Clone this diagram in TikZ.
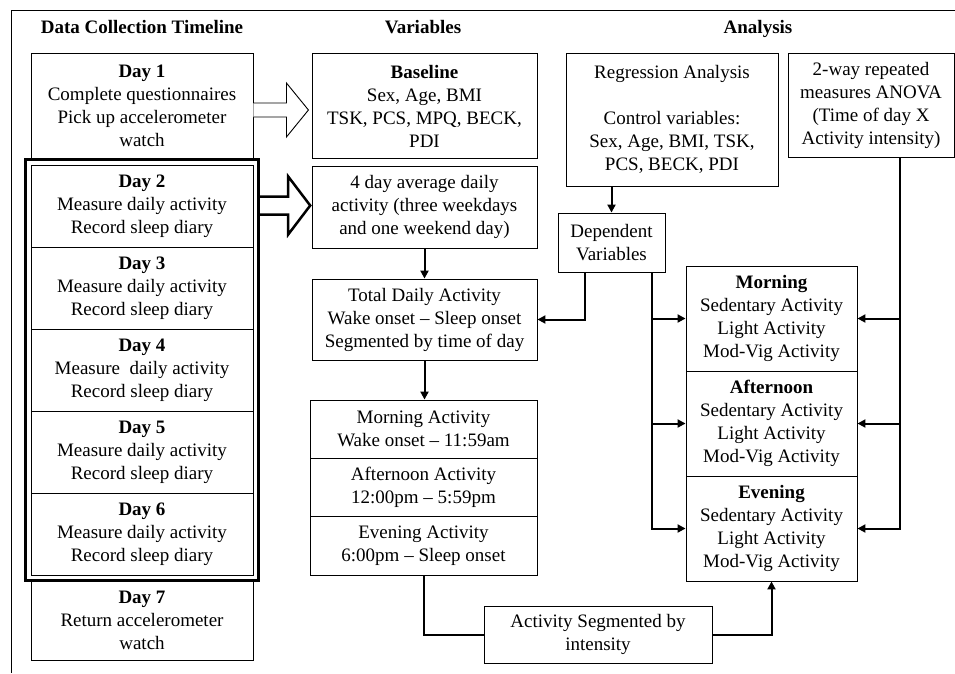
\documentclass[tikz,border=0pt]{standalone}
\usepackage{fontspec}
\setmainfont{Liberation Serif}
\usetikzlibrary{calc,fit,arrows.meta}
\newcommand{\boxline}{.9pt}
\newcommand{\linkline}{2pt}
\newcommand{\txtsize}{\fontsize{19}{23}\selectfont}

\begin{document}
\begin{tikzpicture}[x=1pt,y=-1pt,
  box/.style={draw, line width=\boxline, align=center, inner sep=0pt, font=\txtsize},
  head/.style={font=\txtsize\bfseries, text height=13pt, text depth=4pt},
  link/.style={line width=\linkline, -{Triangle[length=8pt,width=8pt]}},
  plain/.style={line width=\linkline},
  hollow/.style={draw, line width=\boxline, fill=white, line join=miter}]
\useasboundingbox (0,0) rectangle (955,673);
    % frame and column titles
\draw[line width=\boxline] (955,10) -- (11,10) -- (11,673);
\node (ttime) at (142,29) [head] {Data Collection Timeline};
\node (tvar) at (423,29) [head] {Variables};
\node (tana) at (758,29) [head] {Analysis};

    % timeline, one box a day
\node (day1) at (142,105.5) [box, minimum width=222pt, minimum height=105pt] {\textbf{Day 1}\\Complete questionnaires\\Pick up accelerometer\\watch};
\node (day2) at (142,206) [box, minimum width=222pt, minimum height=82pt] {\textbf{Day 2}\\Measure daily activity\\Record sleep diary};
\node (day3) at (142,288) [box, minimum width=222pt, minimum height=82pt] {\textbf{Day 3}\\Measure daily activity\\Record sleep diary};
\node (day4) at (142,370) [box, minimum width=222pt, minimum height=82pt] {\textbf{Day 4}\\Measure\ \ daily activity\\Record sleep diary};
\node (day5) at (142,452) [box, minimum width=222pt, minimum height=82pt] {\textbf{Day 5}\\Measure daily activity\\Record sleep diary};
\node (day6) at (142,534) [box, minimum width=222pt, minimum height=82pt] {\textbf{Day 6}\\Measure daily activity\\Record sleep diary};
\node (day7) at (142,620) [box, minimum width=222pt, minimum height=80pt] {\textbf{Day 7}\\Return accelerometer\\watch};
\node (week) [draw, line width=3.5pt, inner sep=5pt, fit=(day2)(day6)] {};

    % variables column
\node (base) at (424.5,106) [box, minimum width=225pt, minimum height=105pt] {\textbf{Baseline}\\Sex, Age, BMI\\TSK, PCS, MPQ, BECK,\\PDI};
\node (avg) at (424.5,207) [box, minimum width=225pt, minimum height=82pt] {4 day average daily\\activity (three weekdays\\and one weekend day)};
\node (total) at (424.5,319.5) [box, minimum width=225pt, minimum height=81pt] {Total Daily Activity\\Wake onset -- Sleep onset\\Segmented by time of day};
\node (mact) at (423.5,429) [box, minimum width=227pt, minimum height=58pt] {Morning Activity\\Wake onset -- 11:59am};
\node (aact) at (423.5,487) [box, minimum width=227pt, minimum height=58pt] {Afternoon Activity\\12:00pm -- 5:59pm};
\node (eact) at (423.5,545.5) [box, minimum width=227pt, minimum height=59pt] {Evening Activity\\6:00pm -- Sleep onset};
\node (seg) at (598,634.5) [box, minimum width=228pt, minimum height=57pt] {Activity Segmented by\\intensity};

    % analysis column
\node (reg) at (672,119.5) [box, minimum width=212pt, minimum height=133pt] {Regression Analysis\\[23pt]Control variables:\\Sex, Age, BMI, TSK,\\PCS, BECK, PDI};
\node (dep) at (611.5,242.5) [box, minimum width=107pt, minimum height=59pt] {Dependent\\Variables};
\node (anova) at (871,105) [box, minimum width=166pt, minimum height=104pt] {2-way repeated\\measures ANOVA\\(Time of day X\\Activity intensity)};
\node (morn) at (771.5,318.5) [box, minimum width=171pt, minimum height=105pt] {\textbf{Morning}\\Sedentary Activity\\Light Activity\\Mod-Vig Activity};
\node (aft) at (771.5,423.5) [box, minimum width=171pt, minimum height=105pt] {\textbf{Afternoon}\\Sedentary Activity\\Light Activity\\Mod-Vig Activity};
\node (eve) at (771.5,528.5) [box, minimum width=171pt, minimum height=105pt] {\textbf{Evening}\\Sedentary Activity\\Light Activity\\Mod-Vig Activity};

    % block arrows
\draw[hollow] ($(day1.east)+(0,-2.5)$) -- ++(33,0) -- ++(0,-20) -- ++(22,27)
  -- ++(-22,27) -- ++(0,-20) -- ++(-33,0);
\draw[hollow, line width=2.5pt] ($(day2.east -| week.east)+(0,-9.5)$) -- ++(28,0) -- ++(0,-20)
  -- ++(22,29) -- ++(-22,29) -- ++(0,-20) -- ++(-28,0);

    % connectors
\draw[link] (avg.south) -- (total.north);
\draw[link] (total.south) -- (total.south |- mact.north);
\draw[link] (dep.north |- reg.south) -- (dep.north);
\draw[link] ([xshift=-26.5pt]dep.south) |- (total.east);
\draw[link] ([xshift=40.5pt]dep.south) coordinate (dtrunk) |- (eve.west);
\draw[link] (dtrunk |- morn.west) -- (morn.west);
\draw[link] (dtrunk |- aft.west) -- (aft.west);
\draw[link] ([xshift=28.5pt]anova.south) coordinate (atrunk) |- (eve.east);
\draw[link] (atrunk |- morn.east) -- (morn.east);
\draw[link] (atrunk |- aft.east) -- (aft.east);
\draw[plain] (eact.south) |- (seg.west);
\draw[link] (seg.east) -| (eve.south);
\end{tikzpicture}
\end{document}
